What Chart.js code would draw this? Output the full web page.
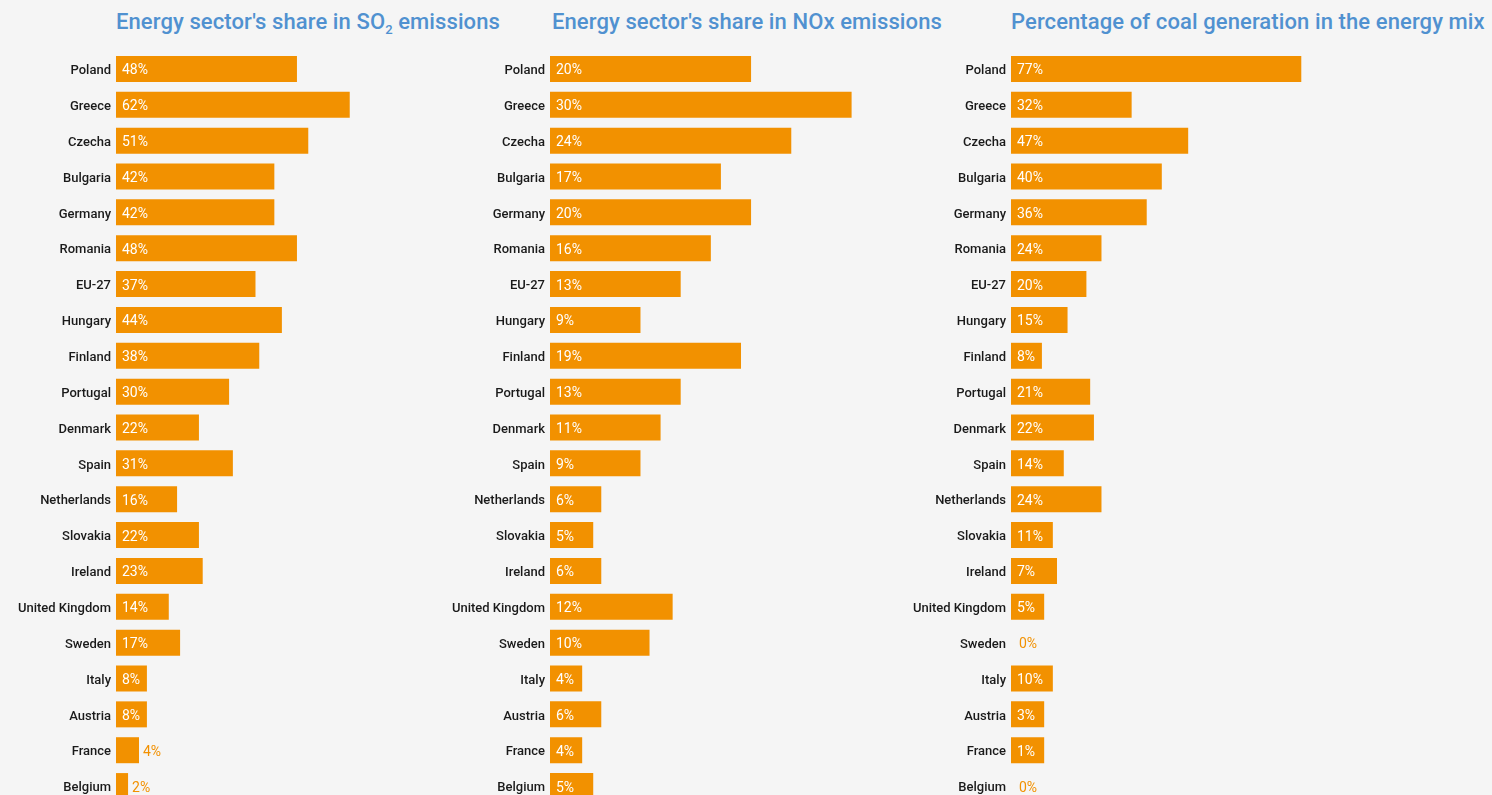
<!DOCTYPE html>
<html>
<head>
<meta charset="utf-8">
<script src="https://cdn.jsdelivr.net/npm/chart.js@4.4.1/dist/chart.umd.min.js"></script>
<style>
html, body { margin:0; padding:0; background:#f5f5f5; width:1492px; height:795px; overflow:hidden; }
.title { position:absolute; top:9px; font-family:Roboto, "Noto Sans", sans-serif; font-size:22px; font-weight:500; color:#5091d0; white-space:nowrap; letter-spacing:0.1px; }
.title sub { font-size:13px; vertical-align:-5px; line-height:0; }
.panel { position:absolute; top:51px; height:753px; }
</style>
</head>
<body>
<div class="title" style="left:116px">Energy sector's share in SO<sub>2</sub> emissions</div>
<div class="title" style="left:552px">Energy sector's share in NOx emissions</div>
<div class="title" style="left:1011px">Percentage of coal generation in the energy mix</div>

<div class="panel" style="left:0px;width:493px"><canvas id="c1"></canvas></div>
<div class="panel" style="left:440px;width:487px"><canvas id="c2"></canvas></div>
<div class="panel" style="left:900px;width:488px"><canvas id="c3"></canvas></div>

<script>
// Categories (top to bottom)
const countries = ["Poland","Greece","Czecha","Bulgaria","Germany","Romania","EU-27","Hungary","Finland","Portugal","Denmark","Spain","Netherlands","Slovakia","Ireland","United Kingdom","Sweden","Italy","Austria","France","Belgium"];

// Printed percentages
const so2Labels  = [48,62,51,42,42,48,37,44,38,30,22,31,16,22,23,14,17,8,8,4,2];
const noxLabels  = [20,30,24,17,20,16,13,9,19,13,11,9,6,5,6,12,10,4,6,4,5];
const coalLabels = [77,32,47,40,36,24,20,15,8,21,22,14,24,11,7,5,0,10,3,1,0];

// Bar lengths (%)
const so2Bars  = [48,62,51,42,42,48,37,44,38,30,22,31,16.2,22,23,14,17,8.2,8.2,6.1,3.2];
const noxBars  = [20,30,24,17,20,16,13,9,19,13,11,9,5.1,4.3,5.1,12.2,9.9,3.2,5.1,3.2,4.3];
const coalBars = [77,32,47,40,36,24,20,15,8.2,21,22,14,24,11.1,12.2,8.8,0,11.1,8.8,8.8,0];

// Axis maxima
const so2Max = 100;
const noxMax = 37.5;
const coalMax = 100;

const ORANGE = '#f29100';

const valueLabels = {
  id: 'valueLabels',
  afterDatasetsDraw(chart, args, opts) {
    const ctx = chart.ctx;
    const meta = chart.getDatasetMeta(0);
    const x0 = chart.scales.x.getPixelForValue(0);
    ctx.save();
    ctx.font = '400 14px Roboto, "Noto Sans", sans-serif';
    ctx.textBaseline = 'middle';
    ctx.textAlign = 'left';
    meta.data.forEach((bar, i) => {
      const txt = opts.labels[i] + '%';
      const w = ctx.measureText(txt).width;
      const bw = bar.x - x0;
      if (bw >= w + 8) {
        ctx.fillStyle = '#ffffff';
        ctx.fillText(txt, x0 + 6, bar.y + 2);
      } else {
        ctx.fillStyle = ORANGE;
        ctx.fillText(txt, Math.max(bar.x + 4, x0 + 8), bar.y + 2);
      }
    });
    ctx.restore();
  }
};

function makeChart(id, bars, labels, max, axisWidth) {
  return new Chart(document.getElementById(id), {
    type: 'bar',
    data: {
      labels: countries,
      datasets: [{
        data: bars,
        backgroundColor: ORANGE,
        borderWidth: 0,
        barPercentage: 0.725,
        categoryPercentage: 1
      }]
    },
    options: {
      indexAxis: 'y',
      responsive: true,
      maintainAspectRatio: false,
      animation: false,
      layout: { padding: 0 },
      plugins: {
        legend: { display: false },
        tooltip: { enabled: false },
        valueLabels: { labels: labels }
      },
      scales: {
        x: { display: false, min: 0, max: max },
        y: {
          grid: { display: false, drawTicks: false },
          border: { display: false },
          ticks: {
            padding: 5,
            labelOffset: 2,
            color: '#1a1a1a',
            font: { family: 'Roboto, "Noto Sans", sans-serif', size: 13, weight: '500' }
          },
          afterFit(s) { s.width = axisWidth; s.paddingTop = 0; s.paddingBottom = 0; }
        }
      }
    },
    plugins: [valueLabels]
  });
}

makeChart('c1', so2Bars, so2Labels, so2Max, 116);
makeChart('c2', noxBars, noxLabels, noxMax, 110);
makeChart('c3', coalBars, coalLabels, coalMax, 111);
</script>
</body>
</html>
